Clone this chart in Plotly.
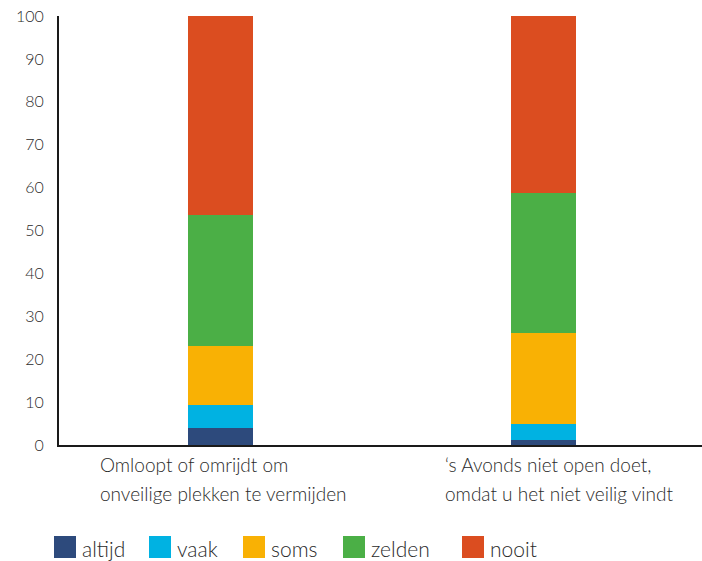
import plotly.graph_objects as go

cat_keys = ["A", "B"]
label_line1 = ["Omloopt of omrijdt om", "‘s Avonds niet open doet,"]
label_line2 = ["onveilige plekken te vermijden", "omdat u het niet veilig vindt"]
series_names = ["altijd", "vaak", "soms", "zelden", "nooit"]
altijd = [4.0, 1.2]
vaak = [5.3, 3.8]
soms = [13.8, 21.2]
zelden = [30.5, 32.6]
nooit = [46.4, 41.2]
y_ticks = [0, 10, 20, 30, 40, 50, 60, 70, 80, 90, 100]

colors = ["#2D4A7C", "#00B2E2", "#F9B104", "#4BAF46", "#DB4D20"]
values = [altijd, vaak, soms, zelden, nooit]

FONT = "Lato"
TXT = "#2a2a2a"
W, H = 702, 561
ML, MR, MT, MB = 59, 0, 16, 116
PW, PH = W - ML - MR, H - MT - MB


def px_x(p):
    return (p - ML) / PW


def px_y(p):
    return (H - MB - p) / PH


fig = go.Figure()
for name, vals, col in zip(series_names, values, colors):
    fig.add_trace(go.Bar(x=cat_keys, y=vals, name=name, marker_color=col,
                         marker_line_width=0, width=0.2, showlegend=False))

# category labels (two left-aligned lines, as in the original)
label_left_px = [98, 443]
for i, key in enumerate(cat_keys):
    for line, ypx in ((label_line1[i], 464.5), (label_line2[i], 493.5)):
        fig.add_annotation(x=px_x(label_left_px[i]), xref="paper", y=px_y(ypx), yref="paper",
                           text=line, showarrow=False, xanchor="left", yanchor="middle",
                           font=dict(family=FONT, size=19, color=TXT, weight=300))

# legend: squares + labels
legend_left_px = [54, 149, 243, 343, 462]
for name, col, lx in zip(series_names, colors, legend_left_px):
    fig.add_shape(type="rect", xref="paper", yref="paper",
                  x0=px_x(lx), x1=px_x(lx + 22), y0=px_y(558), y1=px_y(536),
                  fillcolor=col, line_width=0)
    fig.add_annotation(x=px_x(lx + 26), xref="paper", y=px_y(548), yref="paper",
                       text=name, showarrow=False, xanchor="left", yanchor="middle",
                       font=dict(family=FONT, size=21, color=TXT, weight=300))

fig.update_layout(
    barmode="stack",
    width=W, height=H,
    margin=dict(l=ML, r=MR, t=MT, b=MB, autoexpand=False),
    plot_bgcolor="white", paper_bgcolor="white",
    showlegend=False,
    font=dict(family=FONT, color=TXT),
)
fig.update_xaxes(showticklabels=False, showline=True, linecolor="#1a1a1a", linewidth=2,
                 showgrid=False, ticks="", automargin=False, range=[-0.5, 1.49])
fig.update_yaxes(range=[0, 100], tickvals=y_ticks, showline=True, linecolor="#1a1a1a",
                 linewidth=2, showgrid=False, zeroline=False, ticks="", automargin=False,
                 tickfont=dict(family=FONT, size=16, color=TXT, weight=300),
                 ticklabelstandoff=10)
fig.write_html("out.html", config={"displayModeBar": False},
               post_script="document.body.style.margin='0';document.body.style.padding='0';"
                           "document.body.style.overflow='hidden';")
